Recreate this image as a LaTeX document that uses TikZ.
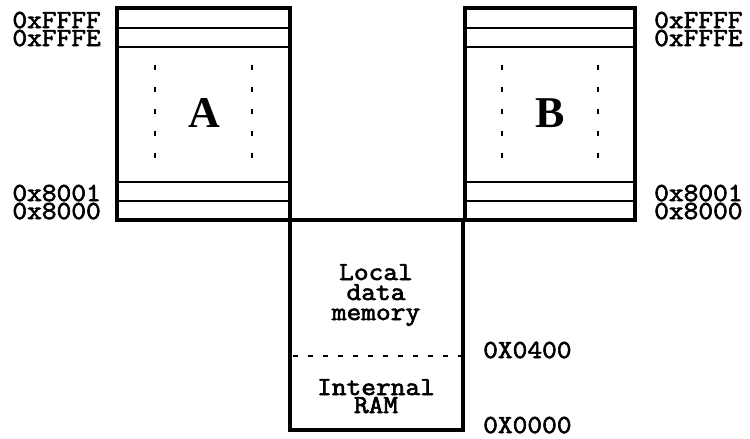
\documentclass[tikz,border=0pt]{standalone}
\usepackage{fontspec}
\newfontfamily\addrfont{Latin Modern Mono}[FakeBold=2.5,FakeStretch=1.1]
\newfontfamily\boxfont{Liberation Serif}
\begin{document}
\begin{tikzpicture}[x=1pt,y=-1pt,
  frame/.style={line width=3.2pt},
  slot/.style={line width=2pt},
  dots/.style={line width=2.2pt,dash pattern=on 5pt off 17pt},
  sep/.style={line width=2.2pt,dash pattern=on 5pt off 10pt},
  addr/.style={font=\addrfont\fontsize{26}{26}\selectfont,inner sep=0pt,
    text height=13pt,text depth=0pt},
  caption/.style={font=\addrfont\fontsize{26}{19}\selectfont,inner sep=0pt,
    text height=13pt,text depth=2pt,anchor=base},
  big/.style={font=\boxfont\bfseries\fontsize{44}{44}\selectfont,inner sep=0pt,anchor=base}]
\useasboundingbox (0,0) rectangle (750,439);

% memory bank A
\draw[slot] (117,28) -- (290,28) (117,47) -- (290,47)
            (117,182) -- (290,182) (117,201) -- (290,201);
\draw[frame] (117,8) rectangle (290,220);
\draw[dots] (155,65) -- (155,160) (252,65) -- (252,160);
\node[big] (A) at (204,127) {A};

% memory bank B
\draw[slot] (465,28) -- (635,28) (465,47) -- (635,47)
            (465,182) -- (635,182) (465,201) -- (635,201);
\draw[frame] (465,8) rectangle (635,220);
\draw[dots] (502,65) -- (502,160) (598,65) -- (598,160);
\node[big] (B) at (550,127) {B};

% shared lower block
\draw[frame] (290,220) rectangle (463,430);
\draw[sep] (293,356) -- (463,356);
\node[caption] (local1) at (376,280) {Local};
\node[caption] (local2) at (376,300) {data};
\node[caption] (local3) at (376,320) {memory};
\node[caption] (iram1) at (376,395) {Internal};
\node[caption,text depth=0pt] (iram2) at (376,413) {RAM};

% address labels
\node[addr,anchor=base east] (aff) at (101,28) {0xFFFF};
\node[addr,anchor=base east] (afe) at (101,46) {0xFFFE};
\node[addr,anchor=base east] (a81) at (101,201) {0x8001};
\node[addr,anchor=base east] (a80) at (101,219) {0x8000};
\node[addr,anchor=base west] (bff) at (654,28) {0xFFFF};
\node[addr,anchor=base west] (bfe) at (654,46) {0xFFFE};
\node[addr,anchor=base west] (b81) at (654,201) {0x8001};
\node[addr,anchor=base west] (b80) at (654,219) {0x8000};
\node[addr,anchor=base west] (m400) at (483,358) {0X0400};
\node[addr,anchor=base west] (m000) at (483,433) {0X0000};
\end{tikzpicture}
\end{document}
